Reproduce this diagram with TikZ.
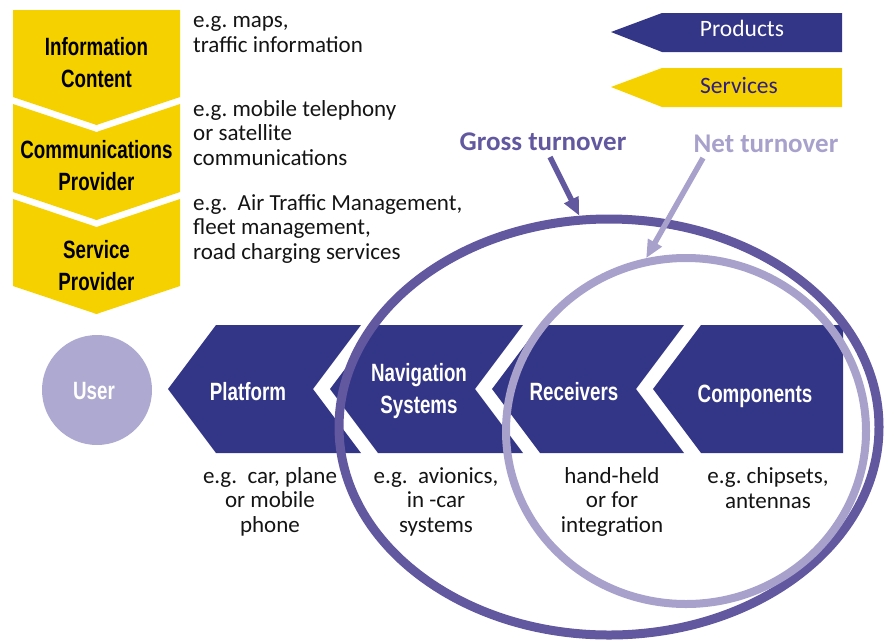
\documentclass[tikz,border=0pt]{standalone}
\usepackage{fontspec}
\setmainfont{Carlito}
\newfontfamily\condfont{Liberation Sans}[FakeStretch=0.75]
\usetikzlibrary{shapes.geometric,arrows.meta}
\frenchspacing

\definecolor{navy}{RGB}{51,53,135}
\definecolor{gold}{RGB}{245,209,0}
\definecolor{grossc}{RGB}{98,88,160}
\definecolor{netc}{RGB}{167,161,203}
\definecolor{userc}{RGB}{174,169,208}
\definecolor{ink}{RGB}{20,20,20}
\definecolor{servtext}{RGB}{46,30,130}

\begin{document}
\begin{tikzpicture}[x=1pt,y=-1pt,
  cond/.style={font=\condfont\bfseries\fontsize{25}{32}\selectfont,
               align=center, inner sep=0pt},
  body/.style={font=\fontsize{23}{24.5}\selectfont, inner sep=0pt, text=ink},
  legendtxt/.style={font=\fontsize{23.5}{26}\selectfont, inner sep=0pt},
  turnover/.style={font=\bfseries\fontsize{27}{30}\selectfont, inner sep=0pt},
  ring/.style={ellipse, inner sep=0pt, fill=none},
  pointer/.style={line width=5.5pt, -{Triangle[length=18pt,width=15pt]}}]

\useasboundingbox (0,0) rectangle (890,640);

% ---- service chain (yellow chevrons, pointing down)
\fill[gold] (13,10) -- (180,10) -- (180,97) -- (96.5,125) -- (13,97) -- cycle;
\fill[gold] (13,104) -- (96.5,132) -- (180,104) -- (180,192) -- (96.5,220) -- (13,192) -- cycle;
\fill[gold] (13,199) -- (96.5,227) -- (180,199) -- (180,286) -- (96.5,314) -- (13,286) -- cycle;

% multi-line nodes are placed by the baseline of their last line
\node[cond, anchor=base] (info) at (96.5,87) {Information\\Content};
\node[cond, anchor=base] (comm) at (96.5,190) {Communications\\Provider};
\node[cond, anchor=base] (serv) at (96.5,290) {Service\\Provider};

\node[body, align=left, anchor=base west] (ex1) at (193,52)
  {e.g. maps,\\traffic information};
\node[body, align=left, anchor=base west] (ex2) at (193,165)
  {e.g. mobile telephony\\or satellite\\communications};
\node[body, align=left, anchor=base west] (ex3) at (193,259)
  {e.g.\ \ Air Traffic Management,\\fleet management,\\road charging services};

% ---- legend arrows
\fill[navy] (611,32) -- (662,13) -- (842,13) -- (842,52) -- (662,52) -- cycle;
\fill[gold] (611,87) -- (662,68) -- (842,68) -- (842,107) -- (662,107) -- cycle;
\node[legendtxt, text=white, anchor=base] (prod) at (742,36) {Products};
\node[legendtxt, text=servtext, anchor=base] (servl) at (739,93) {Services};

% ---- product chain (navy chevrons, pointing left)
\fill[navy] (168,389) -- (216,325) -- (361,325) -- (313,389) -- (361,453) -- (216,453) -- cycle;
\fill[navy] (330,389) -- (378,325) -- (523,325) -- (475,389) -- (523,453) -- (378,453) -- cycle;
\fill[navy] (492,389) -- (540,325) -- (684,325) -- (636,389) -- (684,453) -- (540,453) -- cycle;
\fill[navy] (653,389) -- (701,325) -- (843,325) -- (843,453) -- (701,453) -- cycle;

\node[circle, fill=userc, minimum size=110pt, inner sep=0pt] (user) at (97,390) {};

% ---- turnover rings
\node[ring, draw=grossc, line width=9pt, minimum width=540pt, minimum height=416pt]
  (gross) at (609,427) {};
\node[ring, draw=netc, line width=8pt, minimum width=360pt, minimum height=346pt]
  (net) at (686,431) {};

\node[turnover, text=grossc, anchor=base] (grosslbl) at (543,150) {Gross turnover};
\node[turnover, text=netc, anchor=base] (netlbl) at (766,152) {Net turnover};
\coordinate (gstart) at (550,157);
\coordinate (nstart) at (703,158);
\draw[pointer, grossc] (gstart) -- (gross.98);
\draw[pointer, netc] (nstart) -- (net.103);

% ---- chain labels
\node[cond, text=white, anchor=base] (userlbl) at (94,399) {User};
\node[cond, text=white, anchor=base] (plat) at (248,400) {Platform};
\node[cond, text=white, anchor=base] (navi) at (419,413) {Navigation\\Systems};
\node[cond, text=white, anchor=base] (recv) at (574,400) {Receivers};
\node[cond, text=white, anchor=base] (compo) at (755,402) {Components};

\node[body, align=center, anchor=base] (exp) at (270,532)
  {e.g.\ \ car, plane\\or mobile\\phone};
\node[body, align=center, anchor=base] (exn) at (436,532)
  {e.g.\ \ avionics,\\in -car\\systems};
\node[body, align=center, anchor=base] (exr) at (612,532)
  {hand-held\\or for\\integration};
\node[body, align=center, anchor=base] (exc) at (768,508)
  {e.g. chipsets,\\antennas};

\end{tikzpicture}
\end{document}
